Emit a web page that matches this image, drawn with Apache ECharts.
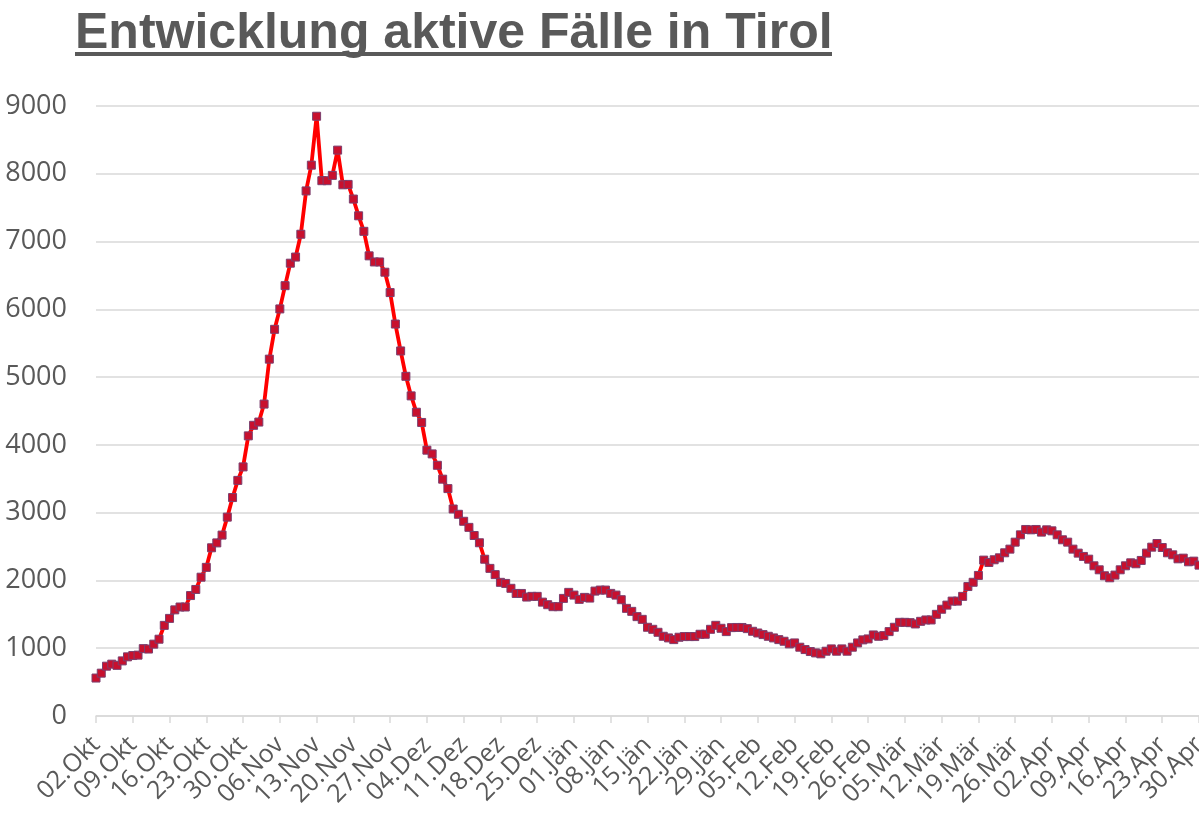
<!DOCTYPE html>
<html>
<head>
<meta charset="utf-8">
<script src="https://cdn.jsdelivr.net/npm/echarts@6/dist/echarts.min.js"></script>
<style>
html,body{margin:0;padding:0;background:#fff;}
#chart{width:1199px;height:824px;}
</style>
</head>
<body>
<div id="chart"></div>
<script>
// Month names and lengths used for the daily category axis (02.Okt 2020 – 30.Apr 2021)
const monthNames = ['Okt', 'Nov', 'Dez', 'Jän', 'Feb', 'Mär', 'Apr'];
const monthLengths = [31, 30, 31, 31, 28, 31, 30];
const startDay = 2;

// Active cases in Tyrol, one value per day
const activeCases = [
  560, 632, 735, 765, 747, 813, 873, 892, 898, 994,
  988, 1060, 1133, 1337, 1440, 1566, 1608, 1608, 1777, 1867,
  2048, 2193, 2482, 2554, 2669, 2934, 3223, 3476, 3675, 4133,
  4289, 4337, 4602, 5265, 5705, 6006, 6349, 6681, 6771, 7108,
  7747, 8127, 8849, 7898, 7898, 7976, 8349, 7837, 7843, 7627,
  7380, 7151, 6789, 6699, 6699, 6548, 6247, 5783, 5386, 5012,
  4723, 4482, 4331, 3922, 3867, 3699, 3494, 3355, 3054, 2976,
  2873, 2783, 2663, 2556, 2313, 2178, 2086, 1972, 1956, 1884,
  1808, 1808, 1755, 1765, 1765, 1680, 1642, 1613, 1613, 1735,
  1824, 1784, 1721, 1750, 1740, 1843, 1858, 1858, 1809, 1784,
  1716, 1588, 1544, 1466, 1426, 1309, 1279, 1235, 1176, 1152,
  1127, 1162, 1172, 1172, 1172, 1206, 1206, 1279, 1338, 1294,
  1245, 1304, 1306, 1306, 1289, 1250, 1225, 1201, 1176, 1152,
  1127, 1103, 1064, 1078, 1015, 980, 951, 931, 917, 956,
  990, 956, 990, 956, 1015, 1078, 1123, 1137, 1196, 1176,
  1186, 1245, 1309, 1382, 1382, 1377, 1358, 1397, 1417, 1417,
  1500, 1575, 1636, 1695, 1695, 1765, 1910, 1973, 2074, 2300,
  2265, 2305, 2334, 2408, 2462, 2565, 2673, 2752, 2747, 2752,
  2713, 2747, 2732, 2673, 2600, 2565, 2462, 2403, 2354, 2314,
  2216, 2157, 2069, 2039, 2079, 2157, 2216, 2260, 2246, 2295,
  2403, 2491, 2545, 2486, 2408, 2378, 2319, 2329, 2275, 2285,
  2226
];

// Y axis ticks
const yMin = 0, yMax = 9000, yStep = 1000;

// Build daily category labels like "02.Okt"
const categories = [];
monthNames.forEach(function (m, mi) {
  const from = mi === 0 ? startDay : 1;
  for (let d = from; d <= monthLengths[mi]; d++) {
    categories.push((d < 10 ? '0' : '') + d + '.' + m);
  }
});

const chart = echarts.init(document.getElementById('chart'), null, {renderer: 'canvas'});
const grey = '#595959';
chart.setOption({
  backgroundColor: '#ffffff',
  animation: false,
  title: {
    text: 'Entwicklung aktive Fälle in Tirol',
    left: 70,
    top: 4,
    textStyle: {
      fontFamily: 'Liberation Sans, Arial, sans-serif',
      fontWeight: 'bold',
      fontSize: 50,
      color: grey
    }
  },
  graphic: [{
    type: 'rect',
    left: 75,
    top: 52,
    shape: {width: 757, height: 4},
    style: {fill: grey}
  }],
  grid: {left: 96, right: 0, top: 106, bottom: 108, outerBoundsMode: 'none', containLabel: false},
  xAxis: {
    type: 'category',
    data: categories,
    boundaryGap: false,
    axisLine: {show: true, lineStyle: {color: '#d9d9d9', width: 1.5}},
    axisTick: {show: true, interval: 6, length: 7, lineStyle: {color: '#d9d9d9', width: 1.5}},
    axisLabel: {
      interval: 6,
      rotate: 45,
      margin: 25,
      color: grey,
      fontFamily: 'Open Sans, sans-serif',
      fontSize: 25,
      hideOverlap: false
    },
    splitLine: {show: false}
  },
  yAxis: {
    type: 'value',
    min: yMin,
    max: yMax,
    interval: yStep,
    axisLine: {show: false},
    axisTick: {show: false},
    axisLabel: {
      color: grey,
      fontFamily: 'Open Sans, sans-serif',
      fontSize: 27,
      margin: 29,
      formatter: function (v) { return String(v); }
    },
    splitLine: {lineStyle: {color: '#d9d9d9', width: 1.5}}
  },
  series: [{
    type: 'line',
    data: activeCases,
    symbol: 'rect',
    symbolSize: 8,
    showAllSymbol: true,
    lineStyle: {color: '#ff0000', width: 3.8},
    itemStyle: {color: '#c8102e', borderColor: '#7b3f6e', borderWidth: 1},
    z: 3
  }]
});
</script>
</body>
</html>
